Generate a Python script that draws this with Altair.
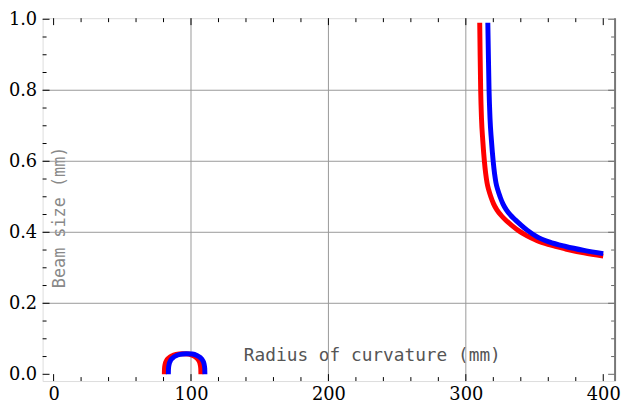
import altair as alt
import pandas as pd

# Red series (two branches)
red_arch_x = [80.6, 80.7, 81.1, 82.1, 83.8, 86.1, 89.1, 93.6, 98.1, 101.4, 103.9, 105.6, 106.6, 107.1, 107.2]
red_arch_y = [0.0, 0.015, 0.027, 0.038, 0.046, 0.052, 0.056, 0.058, 0.057, 0.053, 0.047, 0.039, 0.029, 0.016, 0.0]
red_main_x = [310.1, 310.4, 310.8, 311.4, 312.3, 313.5, 315.4, 316.6, 318.2, 320.2, 322.6, 325.6, 329.1, 333.6, 338.6, 344.6, 351.6, 360.6, 372.6, 386.0, 400.0]
red_main_y = [0.99, 0.90, 0.80, 0.72, 0.66, 0.60, 0.54, 0.52, 0.50, 0.48, 0.463, 0.448, 0.434, 0.419, 0.404, 0.390, 0.377, 0.365, 0.353, 0.342, 0.333]

# Blue series (two branches)
blue_arch_x = [83.5, 83.6, 84.0, 85.0, 86.7, 89.0, 92.0, 96.5, 101.0, 104.3, 106.8, 108.5, 109.5, 110.0, 110.1]
blue_arch_y = [0.0, 0.015, 0.027, 0.038, 0.046, 0.052, 0.056, 0.058, 0.057, 0.053, 0.047, 0.039, 0.029, 0.016, 0.0]
blue_main_x = [316.0, 316.4, 316.9, 317.6, 318.6, 319.9, 321.9, 323.2, 324.9, 327.0, 329.5, 332.6, 336.0, 340.0, 344.6, 351.6, 360.6, 372.6, 386.0, 400.0]
blue_main_y = [0.99, 0.90, 0.80, 0.72, 0.66, 0.60, 0.54, 0.52, 0.50, 0.48, 0.463, 0.448, 0.435, 0.421, 0.406, 0.388, 0.373, 0.360, 0.349, 0.340]

x_labels = [0, 100, 200, 300, 400]
y_labels = [0.0, 0.2, 0.4, 0.6, 0.8, 1.0]
x_grid = [100, 200, 300]
y_grid = [0.2, 0.4, 0.6, 0.8]
x_minor = [v for v in range(0, 401, 20) if v % 100 != 0]
y_minor = [round(i * 0.05, 2) for i in range(0, 21) if i % 4 != 0]

W, H = 579, 367
XDOM = [-8, 408.6]
YDOM = [-0.019, 1.003]

rows = []
for s, seg, xs_, ys_ in [("red", "a", red_arch_x, red_arch_y), ("red", "m", red_main_x, red_main_y),
                         ("blue", "a", blue_arch_x, blue_arch_y), ("blue", "m", blue_main_x, blue_main_y)]:
    for i, (x, y) in enumerate(zip(xs_, ys_)):
        rows.append({"series": s, "seg": s + seg, "x": x, "y": y, "o": i})
df = pd.DataFrame(rows)

xs = alt.Scale(domain=XDOM, nice=False, zero=False)
ys = alt.Scale(domain=YDOM, nice=False, zero=False)

xaxis = alt.Axis(values=x_labels, ticks=False, grid=False, domain=False, labelPadding=5,
                 title="Radius of curvature (mm)", titleFontSize=18,
                 titleColor="#555", titleX=333, titleY=-26,
                 titleAlign="center", titleBaseline="middle")
yaxis = alt.Axis(values=y_labels, format=".1f", ticks=False, grid=False, domain=False, labelPadding=6,
                 title="Beam size (mm)", titleFontSize=17,
                 titleColor="#888", titleX=17, titleY=201, titleAngle=270,
                 titleAlign="center", titleBaseline="middle")

base = alt.Chart(df)

gx = alt.Chart(pd.DataFrame({"v": x_grid})).mark_rule(color="#999", strokeWidth=1).encode(
    x=alt.X("v:Q", scale=xs, axis=xaxis))
gy = alt.Chart(pd.DataFrame({"v": y_grid})).mark_rule(color="#999", strokeWidth=1).encode(
    y=alt.Y("v:Q", scale=ys, axis=yaxis))

def xticks(vals, length):
    d = pd.DataFrame({"v": vals})
    b = alt.Chart(d).mark_rule(color="black", strokeWidth=1).encode(
        x=alt.X("v:Q", scale=xs), y=alt.value(H), y2=alt.value(H - length))
    t = alt.Chart(d).mark_rule(color="black", strokeWidth=1).encode(
        x=alt.X("v:Q", scale=xs), y=alt.value(0), y2=alt.value(length))
    return b + t

def yticks(vals, length):
    d = pd.DataFrame({"v": vals})
    l = alt.Chart(d).mark_rule(color="black", strokeWidth=1).encode(
        y=alt.Y("v:Q", scale=ys), x=alt.value(0), x2=alt.value(length))
    r = alt.Chart(d).mark_rule(color="#666", strokeWidth=1).encode(
        y=alt.Y("v:Q", scale=ys), x=alt.value(W), x2=alt.value(W - length))
    return l + r

lines = base.mark_line(strokeWidth=5, strokeCap="butt", interpolate="monotone", clip=True).encode(
    x=alt.X("x:Q", scale=xs),
    y=alt.Y("y:Q", scale=ys),
    color=alt.Color("series:N", scale=alt.Scale(domain=["red", "blue"], range=["#ff0000", "#0000ff"]), legend=None),
    detail="seg:N",
    order="o:Q",
)

right_edge = alt.Chart(pd.DataFrame({"v": [XDOM[1]]})).mark_rule(color="#777", strokeWidth=2).encode(
    x=alt.X("v:Q", scale=xs), y=alt.value(0), y2=alt.value(H))

chart = alt.layer(
    gx, gy,
    xticks(x_minor, 4), xticks(x_labels, 7),
    yticks(y_minor, 4), yticks(y_labels, 7),
    lines, right_edge,
).properties(
    width=W, height=H,
    autosize=alt.AutoSizeParams(type="none"),
    padding={"left": 35, "top": 8, "right": 6, "bottom": 29},
).configure_view(stroke="black", strokeWidth=1).configure(background="white").configure_axis(
    labelFont="DejaVu Serif", labelFontSize=18, labelColor="black",
    titleFont="DejaVu Sans Mono", titleFontWeight="normal",
)

chart.save("out.html", embed_options={"renderer": "svg", "actions": False})
